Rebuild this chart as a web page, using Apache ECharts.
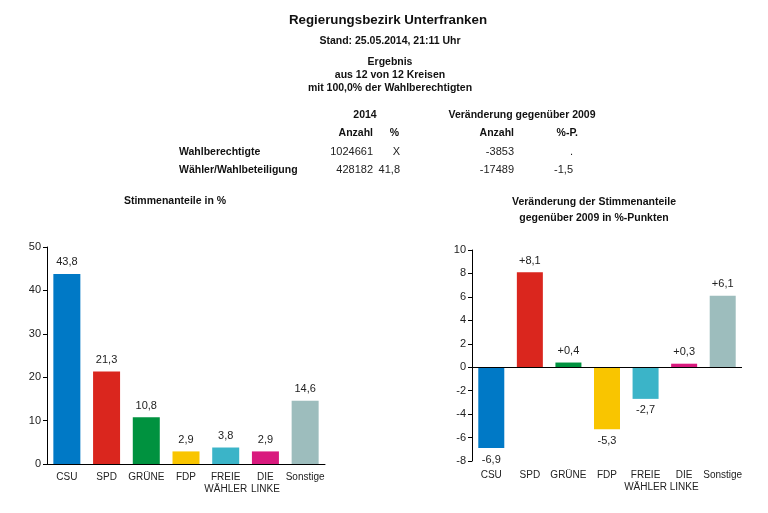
<!DOCTYPE html>
<html><head><meta charset="utf-8">
<script src="https://cdn.jsdelivr.net/npm/echarts@6/dist/echarts.min.js"></script>
<style>html,body{margin:0;padding:0;background:#fff}#c{width:768px;height:513px}</style>
</head><body><div id="c"></div>
<script>
const categories = ['CSU','SPD','GRÜNE','FDP','FREIE\nWÄHLER','DIE\nLINKE','Sonstige'];
const colors = ['#0079c6','#da261e','#00923f','#f9c500','#3bb4c8','#d91a7e','#9dbdbd'];
const shares2014 = [43.8, 21.3, 10.8, 2.9, 3.8, 2.9, 14.6];
const change2009 = [-6.9, 8.1, 0.4, -5.3, -2.7, 0.3, 6.1];
const tableRows = [
  ['Wahlberechtigte', '1024661', 'X', '-3853', '.'],
  ['Wähler/Wahlbeteiligung', '428182', '41,8', '-17489', '-1,5']
];

const fmt = v => v.toFixed(1).replace('.', ',');
const FONT = 'Liberation Sans, Arial, sans-serif';
const chart = echarts.init(document.getElementById('c'));

const texts = [];
function t(x, y, s, opt) {
  texts.push({type:'text', x:x, y:y, style:Object.assign({text:s, font:'bold 10.5px ' + FONT, fill:'#111', textAlign:'left', textVerticalAlign:'middle'}, opt||{})});
}
t(388, 20, 'Regierungsbezirk Unterfranken', {font:'bold 13.3px ' + FONT, textAlign:'center'});
t(390, 41, 'Stand: 25.05.2014, 21:11 Uhr', {textAlign:'center'});
t(390, 62, 'Ergebnis', {textAlign:'center'});
t(390, 75, 'aus 12 von 12 Kreisen', {textAlign:'center'});
t(390, 88, 'mit 100,0% der Wahlberechtigten', {textAlign:'center'});
t(365, 115, '2014', {textAlign:'center'});
t(522, 115, 'Veränderung gegenüber 2009', {textAlign:'center'});
t(373, 133, 'Anzahl', {textAlign:'right'});
t(399, 133, '%', {textAlign:'right'});
t(514, 133, 'Anzahl', {textAlign:'right'});
t(578, 133, '%-P.', {textAlign:'right'});
const rowY = [152, 170];
const colX = [373, 400, 514, 573];
tableRows.forEach((r, i) => {
  t(179, rowY[i], r[0]);
  for (let j = 1; j < 5; j++) t(colX[j-1], rowY[i], r[j], {font:'11px ' + FONT, fill:'#222', textAlign:'right'});
});
t(175, 201, 'Stimmenanteile in %', {textAlign:'center'});
t(594, 202, 'Veränderung der Stimmenanteile', {textAlign:'center'});
t(594, 218, 'gegenüber 2009 in %-Punkten', {textAlign:'center'});

const axisCommon = {
  axisLine:{show:true, lineStyle:{color:'#000', width:1}},
  axisTick:{show:true, length:4, lineStyle:{color:'#000'}},
  axisLabel:{color:'#222', fontSize:11, fontFamily:FONT, margin:6},
  splitLine:{show:false}
};

chart.setOption({
  animation:false,
  graphic: texts,
  grid:[
    {left:47, right:443, top:247, bottom:49},
    {left:472, right:26, top:250, bottom:52}
  ],
  xAxis:[
    {gridIndex:0, type:'category', data:categories,
     axisLine:{lineStyle:{color:'#000'}}, axisTick:{show:false},
     axisLabel:{color:'#222', fontSize:10, fontFamily:FONT, margin:7, interval:0, lineHeight:12}},
    {gridIndex:1, type:'category', data:categories,
     axisLine:{show:false, onZero:false}, axisTick:{show:false},
     axisLabel:{color:'#222', fontSize:10, fontFamily:FONT, margin:8, interval:0, lineHeight:12}}
  ],
  yAxis:[
    Object.assign({gridIndex:0, type:'value', min:0, max:50, interval:10}, axisCommon),
    Object.assign({gridIndex:1, type:'value', min:-8, max:10, interval:2}, axisCommon)
  ],
  series:[
    {type:'bar', xAxisIndex:0, yAxisIndex:0, barWidth:27,
     data: shares2014.map((v,i)=>({value:v, itemStyle:{color:colors[i]}})),
     label:{show:true, position:'top', distance:6, color:'#222', fontSize:11, fontFamily:FONT, formatter:p=>fmt(p.value)}},
    {type:'bar', xAxisIndex:1, yAxisIndex:1, barWidth:26,
     data: change2009.map((v,i)=>({value:v, itemStyle:{color:colors[i]},
        label:{position: v>=0 ? 'top' : 'bottom'}})),
     label:{show:true, distance:6, color:'#222', fontSize:11, fontFamily:FONT,
        formatter:p=>(p.value>0?'+':'')+fmt(p.value)},
     markLine:{silent:true, symbol:'none', label:{show:false},
        lineStyle:{color:'#000', width:1, type:'solid'}, data:[{yAxis:0}]}}
  ]
});
</script></body></html>
